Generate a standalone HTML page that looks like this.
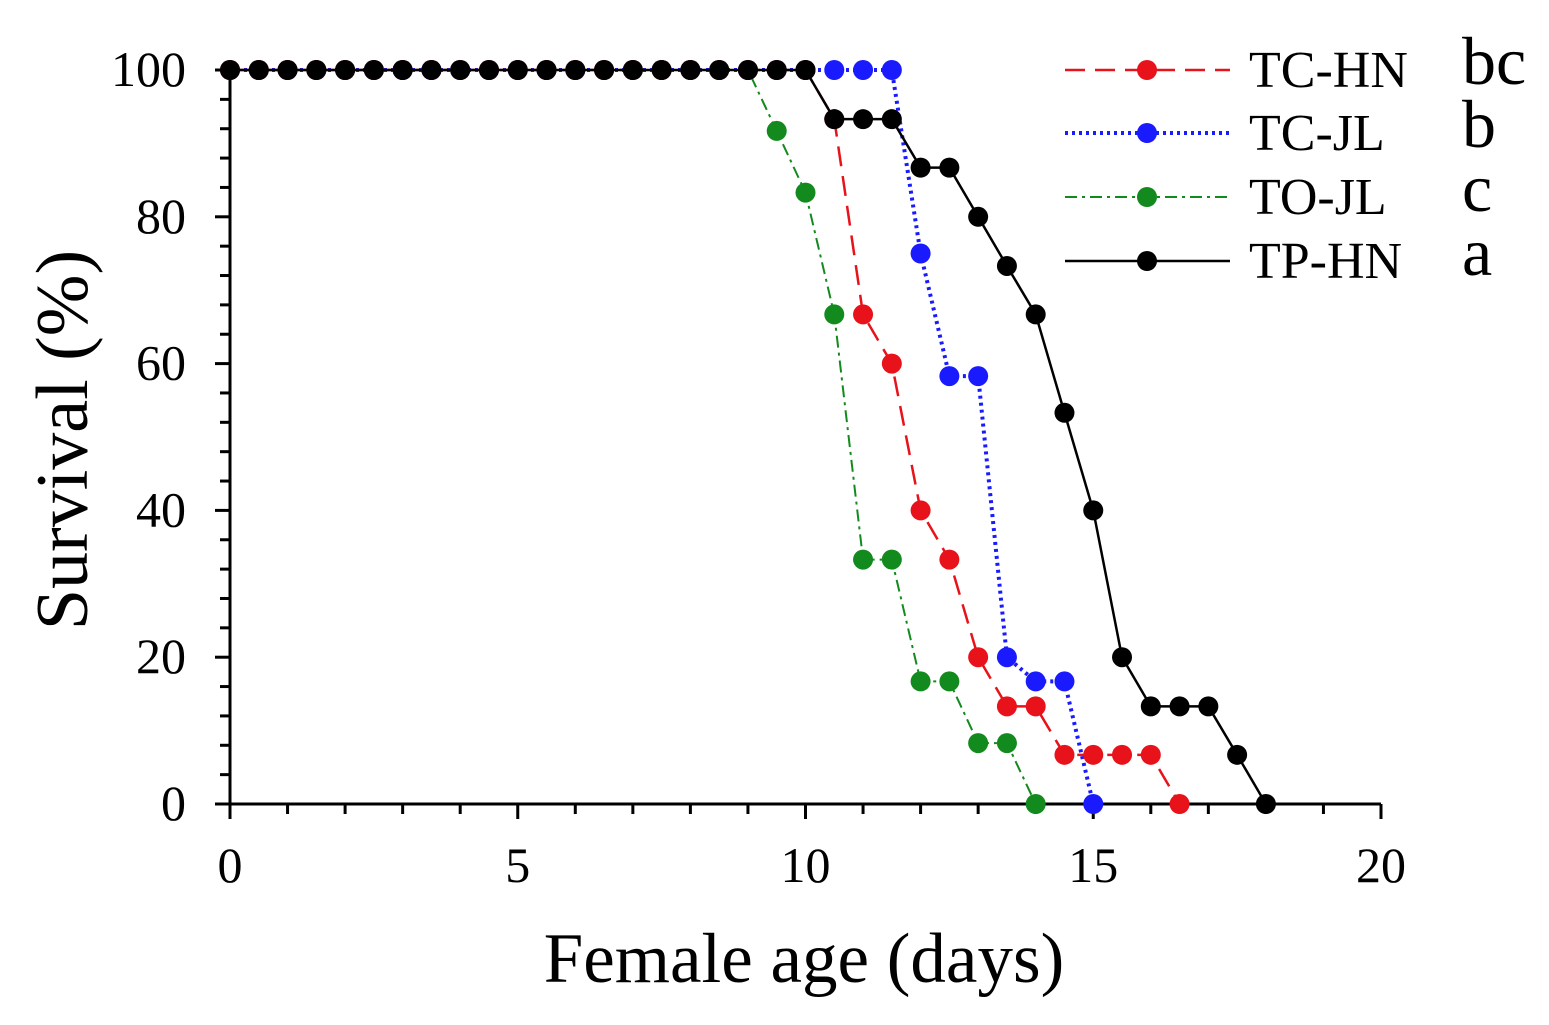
<!DOCTYPE html>
<html><head><meta charset="utf-8"><style>body{margin:0;background:#fff}svg{display:block}</style></head>
<body>
<svg id="chart" width="1549" height="1025" font-family="'Liberation Serif', serif"></svg>
<script>
const ages=[0,0.5,1,1.5,2,2.5,3,3.5,4,4.5,5,5.5,6,6.5,7,7.5,8,8.5,9,9.5,10,10.5,11,11.5,12,12.5,13,13.5,14,14.5,15,15.5,16,16.5,17,17.5,18];
const tpHN=[100,100,100,100,100,100,100,100,100,100,100,100,100,100,100,100,100,100,100,100,100,93.3,93.3,93.3,86.7,86.7,80,73.3,66.7,53.3,40,20,13.3,13.3,13.3,6.7,0];
const tcHN=[100,100,100,100,100,100,100,100,100,100,100,100,100,100,100,100,100,100,100,100,100,93.3,66.7,60,40,33.3,20,13.3,13.3,6.7,6.7,6.7,6.7,0];
const tcJL=[100,100,100,100,100,100,100,100,100,100,100,100,100,100,100,100,100,100,100,100,100,100,100,100,75,58.3,58.3,20,16.7,16.7,0];
const toJL=[100,100,100,100,100,100,100,100,100,100,100,100,100,100,100,100,100,100,100,91.7,83.3,66.7,33.3,33.3,16.7,16.7,8.3,8.3,0];
const xTicks=[0,5,10,15,20];
const yTicks=[0,20,40,60,80,100];
const legendLetters=["bc","b","c","a"];

const svg=document.getElementById('chart');
const NS='http://www.w3.org/2000/svg';
const X0=230,X1=1381,Y0=804,Y1=70;
const sx=v=>X0+(X1-X0)*v/20;
const sy=v=>Y0-(Y0-Y1)*v/100;
function mk(tag,attrs,parent){const e=document.createElementNS(NS,tag);for(const k in attrs)e.setAttribute(k,attrs[k]);(parent||svg).appendChild(e);return e;}

const axes=mk('g',{});


mk('line',{x1:X0,y1:Y0,x2:X1,y2:Y0,stroke:'#000','stroke-width':3},axes);
mk('line',{x1:X0,y1:Y0+1,x2:X0,y2:Y1,stroke:'#000','stroke-width':3},axes);
for(let d=0;d<=20;d++){const maj=d%5===0;mk('line',{x1:sx(d),y1:Y0,x2:sx(d),y2:Y0+(maj?15:10),stroke:'#000','stroke-width':3},axes);}
for(let p=0;p<=100;p+=4){const maj=p%20===0;mk('line',{x1:X0,y1:sy(p),x2:X0-(maj?15:10),y2:sy(p),stroke:'#000','stroke-width':3},axes);}
xTicks.forEach(t=>{const e=mk('text',{x:sx(t),y:882,'text-anchor':'middle','font-size':50},axes);e.textContent=t;

});
yTicks.forEach(t=>{const e=mk('text',{x:186,y:sy(t)+16,'text-anchor':'end','font-size':50},axes);e.textContent=t;

});
const xt=mk('text',{x:804,y:982,'text-anchor':'middle','font-size':71});xt.textContent='Female age (days)';


const yt=mk('text',{x:0,y:0,'text-anchor':'middle','font-size':74,transform:'translate(87,440) rotate(-90)'});yt.textContent='Survival (%)';



const series=[
 {name:'TO-JL',vals:toJL,color:'#138a1d',dash:'12 5 3 5',w:2},
 {name:'TC-JL',vals:tcJL,color:'#1a1aff',dash:'3 4',w:4},
 {name:'TC-HN',vals:tcHN,color:'#e8121a',dash:'20 10',w:2.5},
 {name:'TP-HN',vals:tpHN,color:'#000',dash:'',w:2.5}
];
series.forEach(s=>{
 const g=mk('g',{});
 
 
 const pts=s.vals.map((v,i)=>sx(ages[i])+','+sy(v)).join(' ');
 mk('polyline',{points:pts,fill:'none',stroke:s.color,'stroke-width':s.w,'stroke-dasharray':s.dash},g);
 s.vals.forEach((v,i)=>{const c=mk('circle',{cx:sx(ages[i]),cy:sy(v),r:10,fill:s.color},g);
 
 });
});

const legend=[
 {name:'TC-HN',color:'#e8121a',dash:'20 10',w:2.5,y:70},
 {name:'TC-JL',color:'#1a1aff',dash:'3 4',w:4,y:133},
 {name:'TO-JL',color:'#138a1d',dash:'12 5 3 5',w:2,y:197},
 {name:'TP-HN',color:'#000',dash:'',w:2.5,y:261}
];
legend.forEach((l,i)=>{
 const g=mk('g',{});
 
 
 mk('line',{x1:1065,y1:l.y,x2:1230,y2:l.y,stroke:l.color,'stroke-width':l.w,'stroke-dasharray':l.dash},g);
 mk('circle',{cx:1147,cy:l.y,r:10,fill:l.color},g);
 const t=mk('text',{x:1249,y:l.y+17,'font-size':52},g);t.textContent=l.name;
 const t2=mk('text',{x:1462,y:l.y+14,'font-size':68},g);t2.textContent=legendLetters[i];
});
</script>
</body></html>
